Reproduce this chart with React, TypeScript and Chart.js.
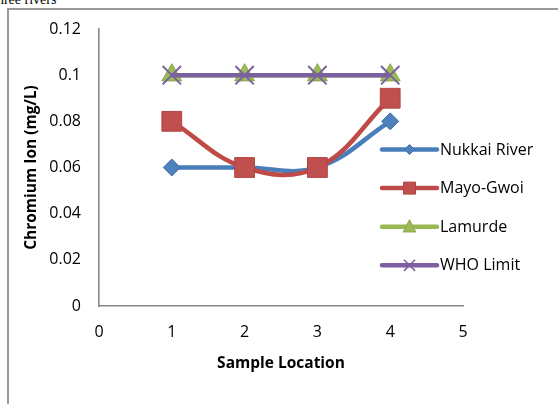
import React, { useEffect, useRef } from 'react';
import { Chart, registerables } from 'chart.js';

Chart.register(...registerables);

// ---- data ----
const sampleLocations = [1, 2, 3, 4];
const nukkaiRiver = [0.06, 0.06, 0.06, 0.08];
const mayoGwoi = [0.08, 0.06, 0.06, 0.09];
const lamurde = [0.1, 0.1, 0.1, 0.1];
const whoLimit = [0.1, 0.1, 0.1, 0.1];
const seriesNames = ['Nukkai River', 'Mayo-Gwoi', 'Lamurde', 'WHO Limit'];
const xTickLabels = ['0', '1', '2', '3', '4', '5'];
const yTickLabels = ['0', '0.02', '0.04', '0.06', '0.08', '0.1', '0.12'];
const xAxisTitle = 'Sample Location';
const yAxisTitle = 'Chromium Ion (mg/L)';
const captionText = 'three rivers';

const FONT = "'Open Sans', 'Noto Sans', sans-serif";

const styles = [
  { line: '#4A7EBB', fill: '#4F81BD', edge: '#3F6FA8', shape: 'rectRot', r: 8.5, lr: 5 },
  { line: '#BE4B48', fill: '#C0504D', edge: '#B24542', shape: 'rect', r: 14, lr: 6 },
  { line: '#98B954', fill: '#9BBB59', edge: '#8AAA4A', shape: 'triangle', r: 11.5, lr: 7 },
  { line: '#7D60A0', fill: '#8064A2', edge: '#7D60A0', shape: 'crossRot', r: 13, lr: 8 },
];

const seriesValues = [nukkaiRiver, mayoGwoi, lamurde, whoLimit];

function drawMarker(ctx: CanvasRenderingContext2D, shape: string, x: number, y: number, s: number, fill: string, edge: string) {
  ctx.save();
  ctx.beginPath();
  ctx.fillStyle = fill;
  ctx.strokeStyle = edge;
  ctx.lineWidth = 1;
  if (shape === 'rectRot') {
    ctx.moveTo(x, y - s);
    ctx.lineTo(x + s, y);
    ctx.lineTo(x, y + s);
    ctx.lineTo(x - s, y);
    ctx.closePath();
    ctx.fill();
    ctx.stroke();
  } else if (shape === 'rect') {
    ctx.rect(x - s, y - s, 2 * s, 2 * s);
    ctx.fill();
    ctx.stroke();
  } else if (shape === 'triangle') {
    ctx.moveTo(x, y - s);
    ctx.lineTo(x + s * 0.9, y + s * 0.75);
    ctx.lineTo(x - s * 0.9, y + s * 0.75);
    ctx.closePath();
    ctx.fill();
    ctx.stroke();
  } else {
    const d = s * 0.7;
    ctx.lineWidth = 1.5;
    ctx.moveTo(x - d, y - d);
    ctx.lineTo(x + d, y + d);
    ctx.moveTo(x + d, y - d);
    ctx.lineTo(x - d, y + d);
    ctx.stroke();
  }
  ctx.restore();
}

const legendPlugin = {
  id: 'excelLegend',
  afterDraw(chart: any) {
    const ctx: CanvasRenderingContext2D = chart.ctx;
    const x0 = 382;
    const x1 = 437;
    const y0 = 149.5;
    const dy = 38.6;
    chart.data.datasets.forEach((ds: any, i: number) => {
      const st = styles[i];
      const y = y0 + dy * i;
      ctx.save();
      ctx.strokeStyle = st.line;
      ctx.lineWidth = 4.5;
      ctx.lineCap = 'round';
      ctx.beginPath();
      ctx.moveTo(x0, y);
      ctx.lineTo(x1, y);
      ctx.stroke();
      ctx.restore();
      drawMarker(ctx, st.shape, (x0 + x1) / 2, y, st.lr, st.fill, st.edge);
      ctx.save();
      ctx.fillStyle = '#000';
      ctx.font = `16px ${FONT}`;
      ctx.textBaseline = 'middle';
      ctx.textAlign = 'left';
      ctx.fillText(ds.label, x1 + 3, y + 0.5);
      ctx.restore();
    });
  },
};

export default function App() {
  const canvasRef = useRef<HTMLCanvasElement | null>(null);

  useEffect(() => {
    if (!canvasRef.current) return;
    const datasets = seriesValues.map((vals, i) => {
      const st = styles[i];
      return {
        label: seriesNames[i],
        data: sampleLocations.map((x, j) => ({ x, y: vals[j] })),
        borderColor: st.line,
        borderWidth: 4.5,
        backgroundColor: st.fill,
        pointStyle: st.shape as any,
        pointRadius: st.r,
        pointBackgroundColor: st.fill,
        pointBorderColor: st.edge,
        pointBorderWidth: st.shape === 'crossRot' ? 2 : 1,
        tension: 0.4,
        fill: false,
        order: 4 - i,
        clip: false as any,
      };
    });

    const chart = new Chart(canvasRef.current, {
      type: 'line',
      data: { datasets },
      plugins: [legendPlugin],
      options: {
        animation: false,
        responsive: false,
        events: [],
        layout: { padding: { left: 22, right: 95, top: 29, bottom: 31 } },
        plugins: {
          legend: { display: false },
          tooltip: { enabled: false },
          title: { display: false },
        },
        scales: {
          x: {
            type: 'linear',
            min: 0,
            max: 5,
            afterBuildTicks: (scale: any) => {
              scale.ticks = xTickLabels.map((t) => ({ value: Number(t) }));
            },
            afterFit: (scale: any) => {
              scale.height = 67;
            },
            ticks: {
              color: '#000',
              padding: 17,
              maxRotation: 0,
              font: { family: FONT, size: 16 },
              callback: (v: any) => String(v),
            },
            grid: { display: false, drawTicks: false },
            border: { display: true, color: '#888888', width: 1.6 },
            title: {
              display: true,
              text: xAxisTitle,
              color: '#000',
              padding: 0,
              font: { family: FONT, size: 15.5, weight: 'bold' },
            },
          },
          y: {
            type: 'linear',
            min: 0,
            max: 0.12,
            afterBuildTicks: (scale: any) => {
              scale.ticks = yTickLabels.map((t) => ({ value: Number(t) }));
            },
            afterFit: (scale: any) => {
              scale.width = 77;
            },
            ticks: {
              color: '#000',
              padding: 18,
              font: { family: FONT, size: 16 },
              callback: (v: any) => String(Number(Number(v).toFixed(2))),
            },
            grid: { display: false, drawTicks: false },
            border: { display: true, color: '#888888', width: 1.6 },
            title: {
              display: true,
              text: yAxisTitle,
              color: '#000',
              padding: 0,
              font: { family: FONT, size: 15.5, weight: 'bold' },
            },
          },
        },
      } as any,
    });
    return () => chart.destroy();
  }, []);

  return (
    <div
      style={{
        position: 'fixed',
        left: 0,
        top: 0,
        width: 558,
        height: 404,
        overflow: 'hidden',
        background: '#fff',
      }}
    >
      <div
        style={{
          position: 'absolute',
          left: -7,
          top: -7.2,
          fontFamily: "'Liberation Serif', 'Times New Roman', serif",
          fontSize: 14,
          lineHeight: '14px',
          whiteSpace: 'nowrap',
          color: '#000',
        }}
      >
        {captionText}
      </div>
      <div
        style={{
          position: 'absolute',
          left: 7,
          top: 8,
          width: 560,
          height: 400,
          borderLeft: '2px solid #9a9a9a',
          borderTop: '2px solid #9a9a9a',
          boxSizing: 'border-box',
        }}
      />
      <canvas
        ref={canvasRef}
        width={558}
        height={404}
        style={{ position: 'absolute', left: 0, top: 0, width: 558, height: 404 }}
      />
    </div>
  );
}
